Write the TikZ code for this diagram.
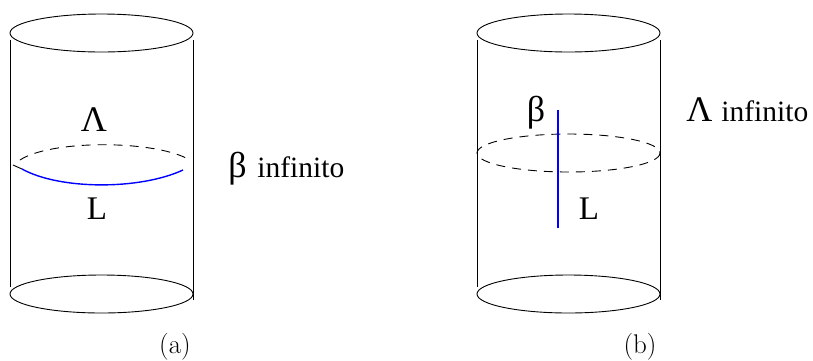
\documentclass[tikz,border=0pt]{standalone}
\usepackage{fontspec}
\newfontfamily\tf{Liberation Serif}
\begin{document}
\begin{tikzpicture}[x=1pt,y=-1pt,line width=0.9pt,
  rim/.style={draw=black},
  blueline/.style={draw=blue,line width=1.4pt},
  lab/.style={font=\tf\fontsize{33}{36}\selectfont,inner sep=0pt},
  grk/.style={font=\tf\fontsize{36}{40}\selectfont,inner sep=0pt},
  inf/.style={font=\tf\fontsize{29.5}{32}\selectfont,inner sep=0pt},
  captxt/.style={font=\fontsize{27}{30}\selectfont,inner sep=0pt}]
\useasboundingbox (0,0) rectangle (813,360);
% cylinder (a)
\draw[rim] (101.5,33) ellipse [x radius=91.5, y radius=19];
\draw[rim] (101.5,294) ellipse [x radius=91.5, y radius=19];
\coordinate (a1t) at (10,40); \coordinate (a1b) at (10,287);
\coordinate (a2t) at (193,40); \coordinate (a2b) at (193,300);
\draw[rim] (a1t) -- (a1b);
\draw[rim] (a2t) -- (a2b);
\coordinate (ad1) at (20,160); \coordinate (ad2) at (186,158);
\draw[rim,dashed,dash pattern=on 9pt off 7pt] (ad1) .. controls (50,140) and (150,140) .. (ad2);
\coordinate (ab0) at (13,165); \coordinate (ab1) at (22,169); \coordinate (ab2) at (183,170);
\draw[rim] (ab0) -- (ab1);
\draw[blueline] (ab1) .. controls (60,190) and (140,190) .. (ab2);
\node[grk] (lama) at (94,120) {Λ};
\node[lab] (La) at (97,209) {L};
\node[grk,anchor=base west] (ba) at (228,177) {β};
\node[inf,anchor=base west] (ia) at (257,177) {infinito};
\node[captxt] (capa) at (175,347) {(a)};
% cylinder (b)
\draw[rim] (568.5,33) ellipse [x radius=91.5, y radius=19];
\draw[rim] (568.5,294) ellipse [x radius=91.5, y radius=19];
\coordinate (b1t) at (477,40); \coordinate (b1b) at (477,287);
\coordinate (b2t) at (660,40); \coordinate (b2b) at (660,300);
\draw[rim] (b1t) -- (b1b);
\draw[rim] (b2t) -- (b2b);
\draw[rim,dashed,dash pattern=on 9pt off 7pt] (568.5,153) ellipse [x radius=91.5, y radius=19];
\coordinate (bv1) at (558,110); \coordinate (bv2) at (558,228);
\draw[blueline] (bv1) -- (bv2);
\node[grk,anchor=base] (betb) at (536,121) {β};
\node[lab] (Lb) at (589,209) {L};
\node[grk,anchor=base west] (lamb) at (686,121) {Λ};
\node[inf,anchor=base west] (ib) at (721,121) {infinito};
\node[captxt] (capb) at (640,347) {(b)};
\end{tikzpicture}
\end{document}
